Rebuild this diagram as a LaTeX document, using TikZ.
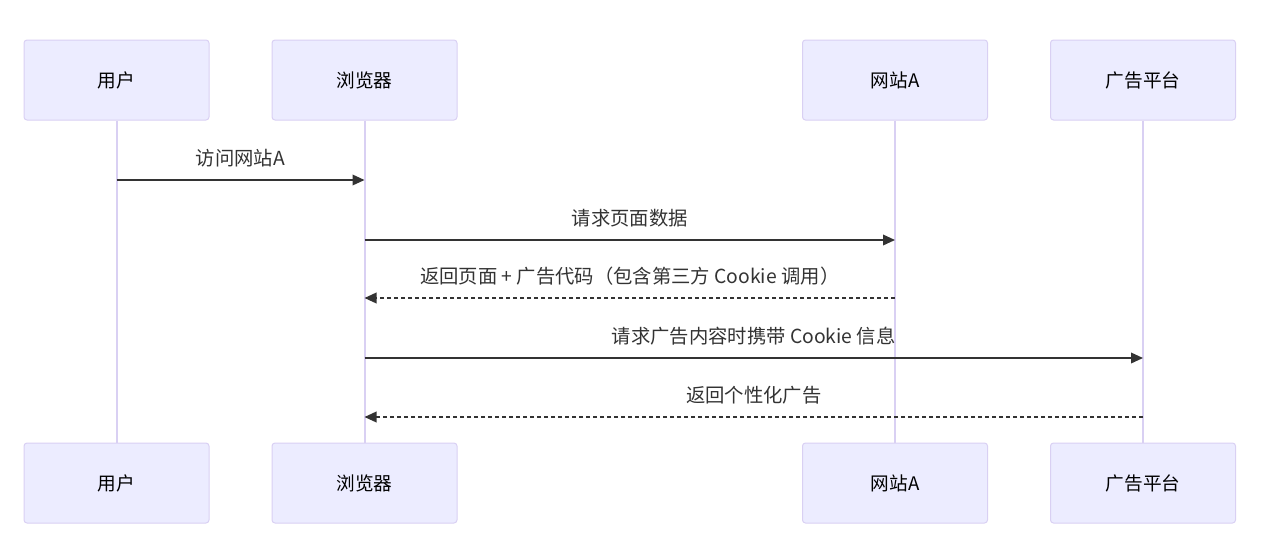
\documentclass[tikz,border=0pt]{standalone}
\usepackage{fontspec}
\setmainfont{Noto Sans CJK SC}
\usetikzlibrary{arrows.meta}
\definecolor{actorfill}{HTML}{ECECFF}
\definecolor{actorline}{HTML}{D9D0F3}
\definecolor{msgline}{HTML}{333333}
\tikzset{
    actor/.style={draw=actorline, fill=actorfill, line width=0.75pt, rounded corners=2.25pt,
        minimum width=138.75pt, minimum height=60pt, font=\fontsize{14}{16}\selectfont},
    life/.style={draw=actorline, line width=1.5pt},
    msg/.style={draw=msgline, line width=1.1pt, -{Triangle[length=9pt,width=8pt]}},
    reply/.style={msg, dash pattern=on 3pt off 2.25pt},
    lbl/.style={text=msgline, font=\fontsize{14.5}{16}\selectfont, yshift=16.5pt}
}
\begin{document}
\begin{tikzpicture}[x=0.75pt, y=-0.75pt]
    \useasboundingbox (0,0) rectangle (1271,550);
    % actors, top and bottom
    \node[actor] (user) at (116.5,80) {用户};
    \node[actor] (browser) at (364.5,80) {浏览器};
    \node[actor] (site) at (895,80) {网站A};
    \node[actor] (ads) at (1143,80) {广告平台};
    \node[actor] (userb) at (116.5,483) {用户};
    \node[actor] (browserb) at (364.5,483) {浏览器};
    \node[actor] (siteb) at (895,483) {网站A};
    \node[actor] (adsb) at (1143,483) {广告平台};
    % lifelines
    \draw[life] (user.south) -- (userb.north);
    \draw[life] (browser.south) -- (browserb.north);
    \draw[life] (site.south) -- (siteb.north);
    \draw[life] (ads.south) -- (adsb.north);
    % messages
    \draw[msg] (user |- 0,180) -- (browser |- 0,180)
        node[midway, lbl] {访问网站A};
    \draw[msg] (browser |- 0,240) -- (site |- 0,240)
        node[midway, lbl] {请求页面数据};
    \draw[reply] (site |- 0,298) -- (browser |- 0,298)
        node[midway, lbl] {返回页面 + 广告代码（包含第三方 Cookie 调用）};
    \draw[msg] (browser |- 0,358) -- (ads |- 0,358)
        node[midway, lbl] {请求广告内容时携带 Cookie 信息};
    \draw[reply] (ads |- 0,417) -- (browser |- 0,417)
        node[midway, lbl] {返回个性化广告};
\end{tikzpicture}
\end{document}
